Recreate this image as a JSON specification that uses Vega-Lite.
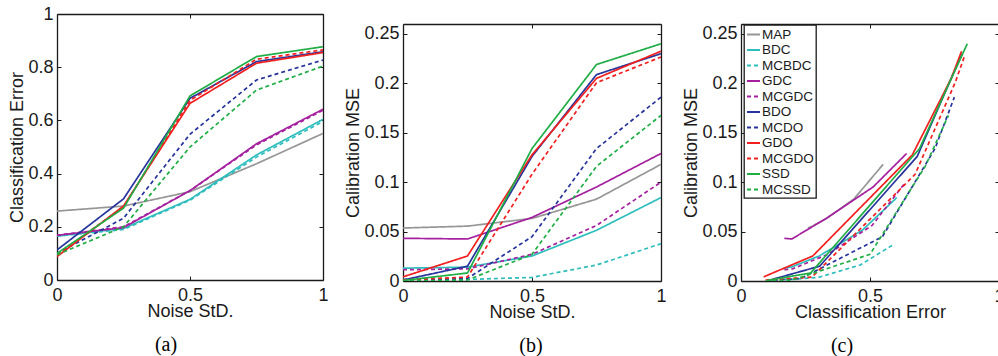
{
  "$schema": "https://vega.github.io/schema/vega-lite/v6.json",
  "background": "white",
  "padding": {"left": 8, "top": 5, "right": 0, "bottom": 0},
  "spacing": 15,
  "datasets": {
    "d": [
      {"method": "MAP", "noise": 0, "err": 0.259, "mse": 0.0536},
      {"method": "MAP", "noise": 0.25, "err": 0.278, "mse": 0.0555},
      {"method": "MAP", "noise": 0.5, "err": 0.332, "mse": 0.0633},
      {"method": "MAP", "noise": 0.75, "err": 0.437, "mse": 0.0828},
      {"method": "MAP", "noise": 1, "err": 0.551, "mse": 0.118},
      {"method": "BDC", "noise": 0, "err": 0.165, "mse": 0.013},
      {"method": "BDC", "noise": 0.25, "err": 0.194, "mse": 0.014},
      {"method": "BDC", "noise": 0.5, "err": 0.303, "mse": 0.0253},
      {"method": "BDC", "noise": 0.75, "err": 0.47, "mse": 0.0513},
      {"method": "BDC", "noise": 1, "err": 0.604, "mse": 0.0844},
      {"method": "MCBDC", "noise": 0, "err": 0.165, "mse": 0.0016},
      {"method": "MCBDC", "noise": 0.25, "err": 0.19, "mse": 0.0016},
      {"method": "MCBDC", "noise": 0.5, "err": 0.3, "mse": 0.0036},
      {"method": "MCBDC", "noise": 0.75, "err": 0.462, "mse": 0.0162},
      {"method": "MCBDC", "noise": 1, "err": 0.596, "mse": 0.0377},
      {"method": "GDC", "noise": 0, "err": 0.168, "mse": 0.0432},
      {"method": "GDC", "noise": 0.25, "err": 0.197, "mse": 0.0425},
      {"method": "GDC", "noise": 0.5, "err": 0.336, "mse": 0.0643},
      {"method": "GDC", "noise": 0.75, "err": 0.512, "mse": 0.0951},
      {"method": "GDC", "noise": 1, "err": 0.642, "mse": 0.129},
      {"method": "MCGDC", "noise": 0, "err": 0.168, "mse": 0.0114},
      {"method": "MCGDC", "noise": 0.25, "err": 0.2, "mse": 0.0123},
      {"method": "MCGDC", "noise": 0.5, "err": 0.336, "mse": 0.027},
      {"method": "MCGDC", "noise": 0.75, "err": 0.508, "mse": 0.0562},
      {"method": "MCGDC", "noise": 1, "err": 0.638, "mse": 0.1},
      {"method": "BDO", "noise": 0, "err": 0.113, "mse": 0.001},
      {"method": "BDO", "noise": 0.25, "err": 0.305, "mse": 0.015},
      {"method": "BDO", "noise": 0.5, "err": 0.683, "mse": 0.126},
      {"method": "BDO", "noise": 0.75, "err": 0.821, "mse": 0.2088},
      {"method": "BDO", "noise": 1, "err": 0.858, "mse": 0.23},
      {"method": "MCDO", "noise": 0, "err": 0.1, "mse": 0.0003},
      {"method": "MCDO", "noise": 0.25, "err": 0.232, "mse": 0.0026},
      {"method": "MCDO", "noise": 0.5, "err": 0.548, "mse": 0.0448},
      {"method": "MCDO", "noise": 0.75, "err": 0.752, "mse": 0.134},
      {"method": "MCDO", "noise": 1, "err": 0.827, "mse": 0.186},
      {"method": "GDO", "noise": 0, "err": 0.088, "mse": 0.0042},
      {"method": "GDO", "noise": 0.25, "err": 0.278, "mse": 0.0253},
      {"method": "GDO", "noise": 0.5, "err": 0.664, "mse": 0.1276},
      {"method": "GDO", "noise": 0.75, "err": 0.815, "mse": 0.205},
      {"method": "GDO", "noise": 1, "err": 0.855, "mse": 0.2325},
      {"method": "MCGDO", "noise": 0, "err": 0.095, "mse": 0.001},
      {"method": "MCGDO", "noise": 0.25, "err": 0.275, "mse": 0.004},
      {"method": "MCGDO", "noise": 0.5, "err": 0.675, "mse": 0.108},
      {"method": "MCGDO", "noise": 0.75, "err": 0.83, "mse": 0.2006},
      {"method": "MCGDO", "noise": 1, "err": 0.865, "mse": 0.2266},
      {"method": "SSD", "noise": 0, "err": 0.1, "mse": 0.0005},
      {"method": "SSD", "noise": 0.25, "err": 0.27, "mse": 0.0081},
      {"method": "SSD", "noise": 0.5, "err": 0.692, "mse": 0.134},
      {"method": "SSD", "noise": 0.75, "err": 0.84, "mse": 0.219},
      {"method": "SSD", "noise": 1, "err": 0.877, "mse": 0.24},
      {"method": "MCSSD", "noise": 0, "err": 0.095, "mse": 0.0},
      {"method": "MCSSD", "noise": 0.25, "err": 0.2, "mse": 0.001},
      {"method": "MCSSD", "noise": 0.5, "err": 0.5, "mse": 0.027},
      {"method": "MCSSD", "noise": 0.75, "err": 0.714, "mse": 0.116},
      {"method": "MCSSD", "noise": 1, "err": 0.804, "mse": 0.1675}
    ]
  },
  "hconcat": [
    {
      "data": {"name": "d"},
      "width": 266,
      "height": 266,
      "title": {"text": "(a)", "orient": "bottom", "anchor": "middle", "frame": "group", "dx": -24, "offset": 15, "font": "Liberation Serif", "fontSize": 20, "fontWeight": "normal", "color": "#000000"},
      "layer": [
        {
          "mark": {"type": "line", "strokeWidth": 1.7, "clip": true},
          "encoding": {
            "x": {"field": "noise", "type": "quantitative", "scale": {"domain": [0, 1]},
                  "axis": {"orient": "bottom", "values": [0, 0.5, 1], "format": "~g", "labelPadding": 10, "title": "Noise StD.", "titlePadding": -2}},
            "y": {"field": "err", "type": "quantitative", "scale": {"domain": [0, 1]},
                  "axis": {"orient": "left", "values": [0, 0.2, 0.4, 0.6, 0.8, 1], "format": "~g", "labelPadding": 8, "title": "Classification Error", "titlePadding": 1}},
            "color": {"field": "method", "type": "nominal", "legend": null,
                      "scale": {"domain": ["MAP","BDC","MCBDC","GDC","MCGDC","BDO","MCDO","GDO","MCGDO","SSD","MCSSD"],
                                "range": ["#969696","#2ebdbd","#2ebdbd","#a5209f","#a5209f","#26339c","#26339c","#f21f1f","#f21f1f","#1fad45","#1fad45"]}},
            "strokeDash": {"field": "method", "type": "nominal", "legend": null,
                      "scale": {"domain": ["MAP","BDC","MCBDC","GDC","MCGDC","BDO","MCDO","GDO","MCGDO","SSD","MCSSD"],
                                "range": [[1,0],[1,0],[4,3],[1,0],[4,3],[1,0],[4,3],[1,0],[4,3],[1,0],[4,3]]}}
          }
        },
        {
          "mark": {"type": "point", "opacity": 0},
          "encoding": {
            "x": {"datum": 0, "type": "quantitative", "axis": {"orient": "top", "values": [0, 0.5, 1], "labels": false, "title": null}},
            "y": {"datum": 0, "type": "quantitative", "axis": {"orient": "right", "values": [0, 0.2, 0.4, 0.6, 0.8, 1], "labels": false, "title": null}}
          }
        }
      ],
      "resolve": {"axis": {"x": "independent", "y": "independent"}}
    },
    {
      "data": {"name": "d"},
      "width": 258,
      "height": 267,
      "title": {"text": "(b)", "orient": "bottom", "anchor": "middle", "frame": "group", "dx": -1, "offset": 15, "font": "Liberation Serif", "fontSize": 20, "fontWeight": "normal", "color": "#000000"},
      "layer": [
        {
          "mark": {"type": "line", "strokeWidth": 1.7, "clip": true},
          "encoding": {
            "x": {"field": "noise", "type": "quantitative", "scale": {"domain": [0, 1]},
                  "axis": {"orient": "bottom", "values": [0, 0.5, 1], "format": "~g", "labelPadding": 10, "title": "Noise StD.", "titlePadding": -2}},
            "y": {"field": "mse", "type": "quantitative", "scale": {"domain": [0, 0.25], "range": [267, 10]},
                  "axis": {"orient": "left", "values": [0, 0.05, 0.1, 0.15, 0.2, 0.25], "format": "~g", "labelPadding": 8, "title": "Calibration MSE", "titlePadding": 1}},
            "color": {"field": "method", "type": "nominal", "legend": null,
                      "scale": {"domain": ["MAP","BDC","MCBDC","GDC","MCGDC","BDO","MCDO","GDO","MCGDO","SSD","MCSSD"],
                                "range": ["#969696","#2ebdbd","#2ebdbd","#a5209f","#a5209f","#26339c","#26339c","#f21f1f","#f21f1f","#1fad45","#1fad45"]}},
            "strokeDash": {"field": "method", "type": "nominal", "legend": null,
                      "scale": {"domain": ["MAP","BDC","MCBDC","GDC","MCGDC","BDO","MCDO","GDO","MCGDO","SSD","MCSSD"],
                                "range": [[1,0],[1,0],[4,3],[1,0],[4,3],[1,0],[4,3],[1,0],[4,3],[1,0],[4,3]]}}
          }
        },
        {
          "mark": {"type": "point", "opacity": 0},
          "encoding": {
            "x": {"datum": 0, "type": "quantitative", "axis": {"orient": "top", "offset": -10, "values": [0, 0.5, 1], "labels": false, "title": null}},
            "y": {"datum": 0, "type": "quantitative", "axis": {"orient": "right", "values": [0, 0.05, 0.1, 0.15, 0.2, 0.25], "labels": false, "title": null}}
          }
        }
      ],
      "resolve": {"axis": {"x": "independent", "y": "independent"}}
    },
    {
      "data": {"name": "d"},
      "width": 258,
      "height": 267,
      "title": {"text": "(c)", "orient": "bottom", "anchor": "middle", "frame": "group", "dx": -28, "offset": 15, "font": "Liberation Serif", "fontSize": 20, "fontWeight": "normal", "color": "#000000"},
      "layer": [
        {
          "mark": {"type": "line", "strokeWidth": 1.7, "clip": true},
          "encoding": {
            "x": {"field": "err", "type": "quantitative", "scale": {"domain": [0, 1]},
                  "axis": {"orient": "bottom", "values": [0, 0.5, 1], "format": "~g", "labelPadding": 10, "title": "Classification Error", "titlePadding": -2}},
            "y": {"field": "mse", "type": "quantitative", "scale": {"domain": [0, 0.25], "range": [267, 10]},
                  "axis": {"orient": "left", "values": [0, 0.05, 0.1, 0.15, 0.2, 0.25], "format": "~g", "labelPadding": 8, "title": "Calibration MSE", "titlePadding": 1}},
            "order": {"field": "noise", "type": "quantitative"},
            "color": {"field": "method", "type": "nominal",
                      "legend": {"orient": "none", "legendX": 3, "legendY": 11, "title": null},
                      "scale": {"domain": ["MAP","BDC","MCBDC","GDC","MCGDC","BDO","MCDO","GDO","MCGDO","SSD","MCSSD"],
                                "range": ["#969696","#2ebdbd","#2ebdbd","#a5209f","#a5209f","#26339c","#26339c","#f21f1f","#f21f1f","#1fad45","#1fad45"]}},
            "strokeDash": {"field": "method", "type": "nominal",
                      "legend": {"orient": "none", "legendX": 3, "legendY": 11, "title": null},
                      "scale": {"domain": ["MAP","BDC","MCBDC","GDC","MCGDC","BDO","MCDO","GDO","MCGDO","SSD","MCSSD"],
                                "range": [[1,0],[1,0],[4,3],[1,0],[4,3],[1,0],[4,3],[1,0],[4,3],[1,0],[4,3]]}}
          }
        },
        {
          "mark": {"type": "point", "opacity": 0},
          "encoding": {
            "x": {"datum": 0, "type": "quantitative", "axis": {"orient": "top", "offset": -10, "values": [0, 0.5, 1], "labels": false, "title": null}},
            "y": {"datum": 0, "type": "quantitative", "axis": {"orient": "right", "values": [0, 0.05, 0.1, 0.15, 0.2, 0.25], "labels": false, "title": null}}
          }
        }
      ],
      "resolve": {"axis": {"x": "independent", "y": "independent"}}
    }
  ],
  "resolve": {"scale": {"color": "independent", "strokeDash": "independent"}},
  "config": {
    "font": "Liberation Sans",
    "view": {"stroke": null},
    "axis": {"labelFontSize": 18, "titleFontSize": 18, "titleFontWeight": "normal", "labelColor": "#1a1a1a", "titleColor": "#1a1a1a", "tickColor": "#1a1a1a", "tickWidth": 1, "tickSize": -4, "grid": false, "domain": true, "domainColor": "#1a1a1a", "domainWidth": 1.3, "labelFlush": false},
    "legend": {"labelFontSize": 13.5, "labelColor": "#1a1a1a", "symbolType": "stroke", "symbolSize": 169, "symbolStrokeWidth": 1.8, "rowPadding": 1.5, "padding": 2, "labelOffset": 1, "strokeColor": "#1a1a1a", "strokeWidth": 1.3, "fillColor": "white", "cornerRadius": 0}
  }
}
